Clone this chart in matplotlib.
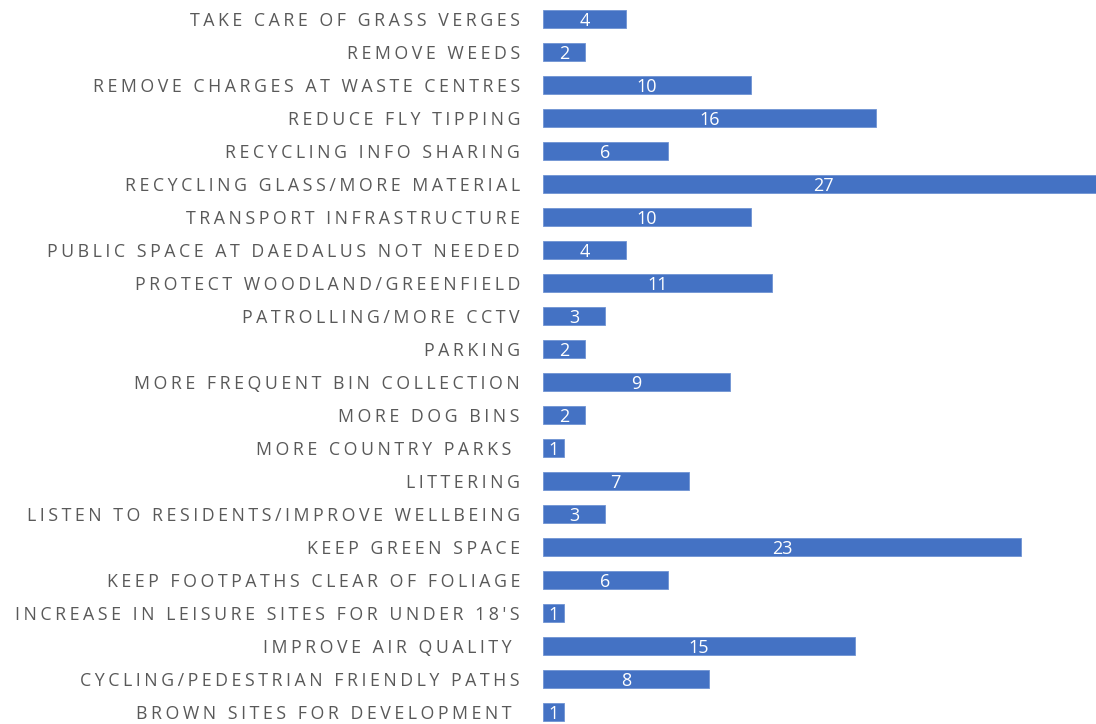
import matplotlib.pyplot as plt
import numpy as np

# Data (top to bottom as shown)
categories = [
    "TAKE CARE OF GRASS VERGES",
    "REMOVE WEEDS",
    "REMOVE CHARGES AT WASTE CENTRES",
    "REDUCE FLY TIPPING",
    "RECYCLING INFO SHARING",
    "RECYCLING GLASS/MORE MATERIAL",
    "TRANSPORT INFRASTRUCTURE",
    "PUBLIC SPACE AT DAEDALUS NOT NEEDED",
    "PROTECT WOODLAND/GREENFIELD",
    "PATROLLING/MORE CCTV",
    "PARKING",
    "MORE FREQUENT BIN COLLECTION",
    "MORE DOG BINS",
    "MORE COUNTRY PARKS ",
    "LITTERING",
    "LISTEN TO RESIDENTS/IMPROVE WELLBEING",
    "KEEP GREEN SPACE",
    "KEEP FOOTPATHS CLEAR OF FOLIAGE",
    "INCREASE IN LEISURE SITES FOR UNDER 18'S",
    "IMPROVE AIR QUALITY ",
    "CYCLING/PEDESTRIAN FRIENDLY PATHS",
    "BROWN SITES FOR DEVELOPMENT ",
]
counts = [4, 2, 10, 16, 6, 27, 10, 4, 11, 3, 2, 9, 2, 1, 7, 3, 23, 6, 1, 15, 8, 1]

W, H = 1096, 724
x0 = 543
px_per_unit = 20.8
fig = plt.figure(figsize=(W / 100, H / 100), dpi=100)
ax = fig.add_axes([x0 / W, 0, 1 - x0 / W, 1])

y = np.arange(len(categories))
bars = ax.barh(y, counts, height=0.52, color="#4472C4", edgecolor="#6f93d3", linewidth=0.6)

ax.set_xlim(0, (W - x0) / px_per_unit)
top_px, step = 19, 33.0
ax.set_ylim((H - top_px) / step, -top_px / step)
ax.axis("off")

for yi, c in zip(y, counts):
    ax.text(c / 2, yi + 0.06, str(c), ha="center", va="center", color="white",
            fontsize=13, family=["Open Sans", "DejaVu Sans"], clip_on=False)


def spaced(s):
    return "\u200a\u200a".join(s)


for yi, cat in zip(y, categories):
    ax.text(-23 / px_per_unit, yi + 0.07, spaced(cat), ha="right", va="center",
            fontsize=12.8, color="#595959", family=["Open Sans", "DejaVu Sans"],
            clip_on=False)

fig.savefig("out.png", dpi=100)
